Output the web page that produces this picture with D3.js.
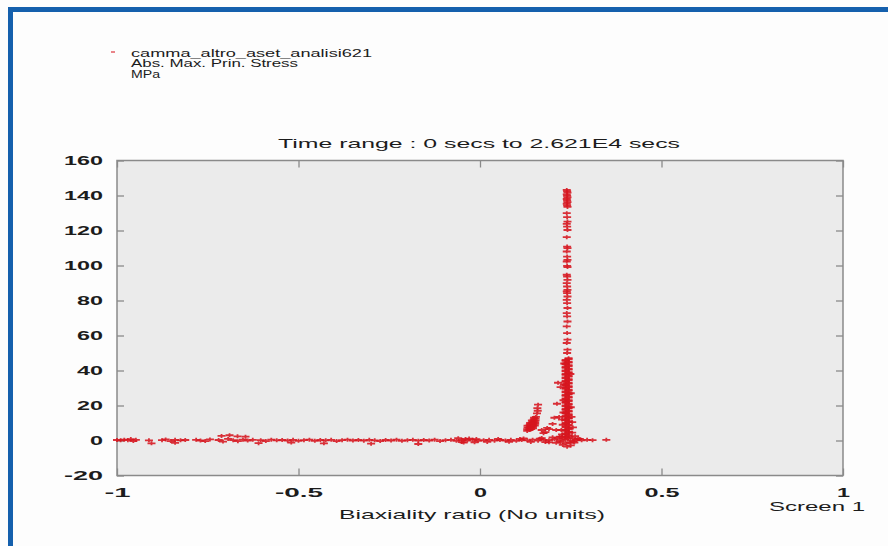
<!DOCTYPE html>
<meta charset="utf-8">
<style>
body {margin: 0; background: #fdfdfd;}
svg text {font-family: "Liberation Sans", Arial, sans-serif; fill: #1c1c1c;}
.frame {fill: #ebebeb; stroke: #8a8a8a; stroke-width: 1.5;}
.tick line {stroke: #8a8a8a; stroke-width: 1.3;}
.pt {stroke: #d6161f; stroke-width: 1.8; fill: none; opacity: .88;}
</style>
<html>
<body>
<script src="https://d3js.org/d3.v7.min.js"></script>
<script>
var width = 888,
    height = 546;

var xTicks = [-1, -0.5, 0, 0.5, 1];
var xTickLabels = ["-1", "-0.5", "0", "0.5", "1"];
var yTicks = [-20, 0, 20, 40, 60, 80, 100, 120, 140, 160];
var yTickLabels = ["-20", "0", "20", "40", "60", "80", "100", "120", "140", "160"];

var legendLines = ["camma_altro_aset_analisi621", "Abs. Max. Prin. Stress", "MPa"];

// horizontal band of points around zero
var band = [
  [-1.0,0.3],[-0.99,0.1],[-0.98,0.5],[-0.97,0.2],[-0.962,0.8],[-0.955,-0.3],[-0.948,0.4],
  [-0.905,-1.6],[-0.912,0.1],
  [-0.876,0.2],[-0.866,0.6],[-0.852,-0.3],[-0.84,0.4],
  [-0.825,0.1],[-0.812,0.3],
  [-0.782,0.4],[-0.77,0.0],[-0.757,-0.3],[-0.744,0.6],
  [-0.72,0.3],[-0.708,-0.6],[-0.694,0.9],[-0.68,0.2],[-0.667,-0.4],[-0.653,0.5],[-0.64,0.0],[-0.626,0.4],
  [-0.712,2.6],[-0.69,3.0],[-0.668,2.4],[-0.646,2.2],
  [-0.604,0.2],[-0.59,-0.3],[-0.575,0.5],[-0.56,0.1],
  [-0.545,0.3],[-0.53,0.0],[-0.515,0.4],[-0.5,-0.2],[-0.485,0.2],[-0.47,0.5],[-0.455,-0.2],[-0.44,0.3],
  [-0.425,0.1],[-0.41,0.4],[-0.395,-0.3],[-0.38,0.2],[-0.365,0.5],[-0.35,0.0],[-0.335,0.3],
  [-0.32,-0.1],[-0.305,0.4],[-0.29,0.1],[-0.275,-0.3],[-0.26,0.3],[-0.245,0.0],[-0.23,0.5],[-0.215,-0.2],
  [-0.2,0.2],[-0.185,0.4],[-0.17,-0.1],[-0.155,0.3],[-0.14,0.0],[-0.125,0.5],[-0.11,-0.3],[-0.095,0.2],
  [-0.08,0.4],[-0.065,-0.2],[-0.05,0.3],[-0.035,0.0],[-0.02,0.5],[-0.005,-0.2],[0.01,0.2],[0.025,0.4],
  [0.04,-0.1],[0.055,0.3],[0.07,0.0],[0.085,0.4],[0.1,-0.2],[0.115,0.3],[0.13,0.1],[0.145,0.5],
  [0.16,-0.1],[0.175,0.4],[0.19,0.2],[0.205,0.6],[0.22,0.0],[0.235,0.5],[0.25,-0.2],[0.265,0.3],
  [0.28,0.1],[0.295,0.4],[0.31,0.2],
  [-0.06,1.3],[-0.045,-1.2],[-0.03,1.1],[-0.015,-1.0],[-0.05,-0.9],[-0.04,0.9],[-0.01,0.8],
  [0.02,-0.8],[0.05,0.9],[0.08,-0.7],[0.11,0.9],[0.14,-0.8],[0.165,1.0],[0.18,-0.9],
  [0.12,1.2],[0.17,1.4],[0.19,-1.0],[0.2,1.8],[0.21,-1.3],[0.22,2.2],[0.26,-1.2],[0.275,0.9],
  [-0.43,-1.6],[-0.3,-1.8],[-0.17,-2.0],[-0.52,-1.2],[-0.61,-1.5],[-0.84,-1.3],
  [0.348,0.4]
];

// small slanted cluster left of the spike
var patch = [
  [0.13,5.5],[0.13,6.5],[0.131,7.5],[0.131,8.5],
  [0.136,6],[0.136,7],[0.137,8],[0.137,9],[0.138,10],
  [0.141,6.5],[0.141,7.5],[0.142,8.5],[0.142,9.5],[0.143,10.5],[0.143,11.5],
  [0.146,7],[0.146,8],[0.147,9],[0.147,10],[0.148,11],[0.148,12],[0.149,13],
  [0.151,8.5],[0.152,9.5],[0.152,10.5],[0.153,11.5],[0.153,12.5],[0.154,13.5],
  [0.157,15.5],[0.159,17],[0.158,18.5],[0.16,20.5],
  [0.17,6],[0.18,4.8],[0.19,6.5],[0.175,4.2],[0.185,7.2]
];

// vertical spike near 0.24
var spike = [
  [0.228,-2.5],[0.24,-3.5],[0.25,-2.8],[0.236,-1.5],[0.248,-1.2],[0.258,-0.5],[0.222,-0.8],
  [0.232,1.0],[0.244,1.5],[0.256,1.2],[0.226,2.2],[0.262,2.5],[0.214,1.4],[0.27,1.0],
  [0.236,2],[0.244,3],[0.236,4],[0.244,5],[0.236,6],[0.244,7],[0.236,8],[0.244,9],[0.236,10],
  [0.244,11],[0.236,12],[0.244,13],[0.236,14],[0.244,15],[0.236,16],[0.244,17],[0.236,18],
  [0.244,19],[0.236,20],[0.244,21],[0.236,22],[0.244,23],[0.236,24],[0.244,25],[0.236,26],
  [0.244,27],[0.236,28],[0.244,29],[0.236,30],[0.244,31],[0.236,32],[0.244,33],[0.236,34],
  [0.244,35],[0.236,36],[0.244,37],[0.236,38],[0.244,39],[0.236,40],[0.244,41],[0.236,42],
  [0.244,43],[0.236,44],[0.244,45],[0.236,46],[0.244,47],
  [0.244,2.5],[0.236,3.5],[0.244,4.5],[0.236,5.5],[0.244,6.5],[0.236,7.5],[0.244,8.5],[0.236,9.5],
  [0.244,10.5],[0.236,11.5],[0.244,12.5],[0.236,13.5],[0.244,14.5],[0.236,15.5],[0.244,16.5],
  [0.236,17.5],[0.244,18.5],[0.236,19.5],[0.244,20.5],[0.236,21.5],[0.244,22.5],[0.236,23.5],
  [0.244,24.5],[0.236,25.5],[0.244,26.5],[0.236,27.5],[0.244,28.5],[0.236,29.5],[0.244,30.5],
  [0.236,31.5],[0.244,32.5],[0.236,33.5],[0.244,34.5],[0.236,35.5],[0.244,36.5],[0.236,37.5],
  [0.244,38.5],[0.236,39.5],[0.244,40.5],[0.236,41.5],[0.244,42.5],[0.236,43.5],[0.244,44.5],
  [0.236,45.5],[0.244,46.5],
  [0.226,3.5],[0.254,4.5],[0.224,6],[0.256,7.5],[0.228,9],[0.254,10.5],[0.226,12],[0.252,13.5],
  [0.23,16],[0.25,19],[0.23,23],[0.25,27],[0.231,32],[0.249,38],[0.232,44],
  [0.215,33],[0.222,30.5],[0.212,21],[0.205,13],[0.218,13.5],[0.2,9.5],[0.21,6],
  [0.24,50],[0.241,51.9],[0.239,55.7],[0.241,57.6],[0.24,61.4],[0.239,65.2],[0.241,68],
  [0.24,70.9],[0.239,72.8],[0.241,75.7],[0.24,78.5],[0.239,80.4],[0.241,82.3],[0.24,84.2],
  [0.239,85.2],[0.241,86.1],[0.24,88],[0.239,89.9],[0.241,91.8],[0.24,93.7],[0.239,94.7],
  [0.241,99.1],[0.24,99.8],[0.239,102.3],[0.241,103.2],[0.24,105.1],[0.239,108],[0.241,109.9],
  [0.24,110.8],[0.239,116.2],[0.241,120.3],[0.24,122.2],[0.239,123.8],[0.241,125.1],[0.24,127.6],
  [0.239,129.9],[0.241,133.5],[0.24,134.4],[0.239,135.3],[0.241,136.2],[0.24,137.1],[0.239,138],
  [0.241,138.9],[0.24,139.8],[0.239,140.7],[0.241,141.6],[0.24,142.5],[0.239,143.2]
];

var svg = d3.select("body").append("svg")
    .attr("width", width)
    .attr("height", height);

svg.append("rect").attr("width", width).attr("height", height).attr("fill", "#fdfdfd");

// blue page border
svg.append("rect").attr("x", 8).attr("y", 7).attr("width", width - 8).attr("height", 5).attr("fill", "#1560ad");
svg.append("rect").attr("x", 8).attr("y", 7).attr("width", 5).attr("height", height - 7).attr("fill", "#1560ad");

var plotLeft = 117, plotRight = 843, plotTop = 160.5, plotBottom = 475.5;

var x = d3.scaleLinear().domain([-1, 1]).range([plotLeft, plotRight]);
var y = d3.scaleLinear().domain([-20, 160]).range([plotBottom, plotTop]);

// per character widths of the wide screen font
function tickWidth(s) {
  return d3.sum(s.split(""), function(c) { return c == "." ? 9 : 13; });
}

svg.append("rect").attr("class", "frame")
    .attr("x", plotLeft).attr("y", plotTop)
    .attr("width", plotRight - plotLeft).attr("height", plotBottom - plotTop);

var gy = svg.append("g").attr("transform", "translate(" + plotLeft + ",0)")
    .call(d3.axisLeft(y).tickValues(yTicks).tickSize(-7).tickPadding(14)
      .tickFormat(function(d, i) { return yTickLabels[i]; }));
var gyr = svg.append("g").attr("transform", "translate(" + plotRight + ",0)")
    .call(d3.axisRight(y).tickValues(yTicks).tickSize(-7).tickFormat(""));
var gx = svg.append("g").attr("transform", "translate(0," + plotBottom + ")")
    .call(d3.axisBottom(x).tickValues(xTicks).tickSize(-7).tickPadding(12)
      .tickFormat(function(d, i) { return xTickLabels[i]; }));
var gxt = svg.append("g").attr("transform", "translate(0," + plotTop + ")")
    .call(d3.axisTop(x).tickValues(xTicks).tickSize(-7).tickFormat(""));

[gy, gyr, gx, gxt].forEach(function(g) { g.select(".domain").remove(); });

svg.selectAll(".tick text")
    .attr("font-size", 13)
    .attr("font-weight", "bold")
    .attr("font-family", "Liberation Sans, Arial, sans-serif")
    .attr("fill", "#1c1c1c")
    .attr("textLength", function() { return tickWidth(this.textContent); })
    .attr("lengthAdjust", "spacingAndGlyphs");

var marker = "M-4,0H4M0,-2V2";

function drawPoints(data) {
  svg.append("g").selectAll("path")
    .data(data)
    .enter().append("path")
    .attr("class", "pt")
    .attr("d", marker)
    .attr("transform", function(d) { return "translate(" + x(d[0]) + "," + y(d[1]) + ")"; });
}
drawPoints(band);
drawPoints(patch);
drawPoints(spike);

// legend
svg.append("path").attr("class", "pt").attr("d", "M-2,0H2").style("stroke-width", 1.2)
    .attr("transform", "translate(113,52)");
var legendWidths = [241, 167, 29];
svg.selectAll(".legend")
    .data(legendLines)
    .enter().append("text")
    .attr("class", "legend")
    .attr("x", 131)
    .attr("y", function(d, i) { return 56.5 + i * 10.5; })
    .attr("font-size", 10)
    .attr("textLength", function(d, i) { return legendWidths[i]; })
    .attr("lengthAdjust", "spacingAndGlyphs")
    .text(function(d) { return d; });

svg.append("text")
    .attr("x", 479).attr("y", 148)
    .attr("text-anchor", "middle")
    .attr("font-size", 13.5)
    .attr("textLength", 402).attr("lengthAdjust", "spacingAndGlyphs")
    .text("Time range : 0 secs to 2.621E4 secs");

svg.append("text")
    .attr("x", 472).attr("y", 519)
    .attr("text-anchor", "middle")
    .attr("font-size", 13)
    .attr("textLength", 266).attr("lengthAdjust", "spacingAndGlyphs")
    .text("Biaxiality ratio (No units)");

svg.append("text")
    .attr("x", 769).attr("y", 511)
    .attr("font-size", 13)
    .attr("textLength", 96).attr("lengthAdjust", "spacingAndGlyphs")
    .text("Screen 1");
</script>
</body>
</html>
